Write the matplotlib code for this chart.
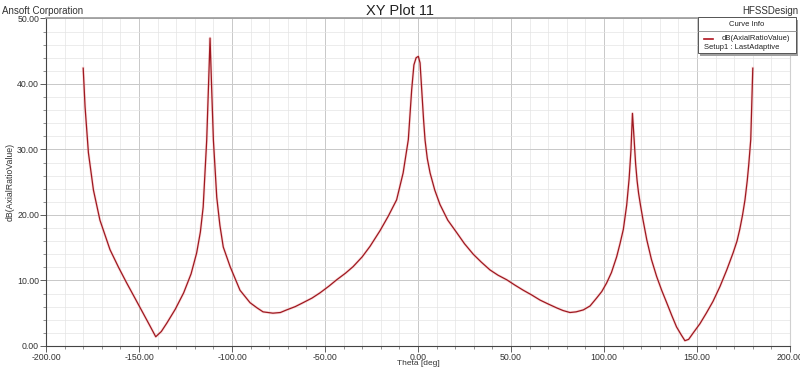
import matplotlib.pyplot as plt
from matplotlib.patches import Rectangle
from matplotlib.lines import Line2D
from matplotlib.ticker import MultipleLocator

plt.rcParams['font.family'] = ['Liberation Sans', 'DejaVu Sans']

# Axial ratio vs theta
theta = [-180, -179, -177.2, -174.5, -171, -165.6, -161, -156.6, -152, -147.8, -144, -141,
         -138, -135, -130.5, -126, -122, -119, -117, -115.5, -113.6, -112.4, -111.8,
         -110.9, -110, -108.2, -106.5, -104.7, -101, -95.7, -90.3, -86.5, -83.3, -78,
         -74, -70.6, -66, -61.8, -57, -52.7, -48, -43.7, -39, -34.9, -30, -25.8, -20.4, -16,
         -11.5, -8, -5.2, -3.4, -2.2, -1, 0.2, 1.1, 2, 3, 3.8, 5, 6.5, 9, 11.8, 16, 20.8, 25, 29.7,
         34, 38.7, 43, 47.7, 52, 56.6, 61, 65.6, 70, 74.6, 78, 81.7, 85, 88.9, 92.5, 96, 98.8,
         101.4, 104, 106.8, 108.6, 110.4, 112.2, 113.5, 114.5, 115.3, 116.2, 117, 117.8, 118.6,
         119.6, 121, 123, 125.5, 128.3, 131, 133.7, 136.5, 139, 141.5, 143.5, 145.5, 148, 151.6,
         155, 158.6, 162.4, 166, 169.4, 171.5, 173, 174.5, 175.8, 177, 177.8, 178.9, 180]
ar_db = [42.4, 36.5, 29.5, 23.8, 19.2, 14.7, 12.0, 9.6, 7.2, 5.0, 3.0, 1.4,
         2.2, 3.5, 5.6, 8.1, 11.0, 14.2, 17.4, 21.2, 31.4, 41.7, 47.0,
         39.0, 31.4, 22.7, 18.4, 15.1, 12.1, 8.5, 6.6, 5.8, 5.2, 5.0,
         5.1, 5.5, 6.0, 6.6, 7.3, 8.1, 9.1, 10.1, 11.1, 12.1, 13.6, 15.2, 17.6, 19.8,
         22.3, 26.4, 31.5, 39.1, 42.9, 44.0, 44.2, 43.2, 39.1, 34.5, 31.4, 28.6, 26.4, 23.8, 21.6,
         19.2, 17.3, 15.6, 14.0,
         12.8, 11.6, 10.8, 10.1, 9.3, 8.5, 7.8, 7.0, 6.4, 5.8, 5.4, 5.1, 5.2, 5.5, 6.1, 7.3, 8.3,
         9.6, 11.2, 13.6, 15.6, 17.8, 21.5, 25.5, 29.9, 35.5, 31.5, 27.8, 25.2, 23.3,
         21.5, 19.2, 16.2, 13.2, 10.6, 8.5, 6.6, 4.6, 2.9, 1.7, 0.8, 1.0, 2.0, 3.4,
         5.0, 6.8, 9.1, 11.6, 14.2, 16.0, 17.8, 20.0, 22.3, 25.2, 27.6, 31.5, 42.4]

x_major = [-200, -150, -100, -50, 0, 50, 100, 150, 200]
y_major = [0, 10, 20, 30, 40, 50]

fig = plt.figure(figsize=(8, 3.68), dpi=100)
ax = fig.add_axes([0.0575, 0.06, 0.93, 0.89])

ax.plot(theta, ar_db, color='#f4a0a0', lw=2.0, alpha=0.35, solid_joinstyle='round')
ax.plot(theta, ar_db, color='#9e1820', lw=0.9, solid_joinstyle='round')

ax.set_xlim(-200, 200)
ax.set_ylim(0, 50)
ax.set_xticks(x_major)
ax.set_yticks(y_major)
ax.set_xticklabels(['%.2f' % v for v in x_major])
ax.set_yticklabels(['%.2f' % v for v in y_major])
ax.xaxis.set_minor_locator(MultipleLocator(10))
ax.yaxis.set_minor_locator(MultipleLocator(2))
ax.grid(which='major', color='#c8c8c8', lw=0.7)
ax.grid(which='minor', color='#e4e4e4', lw=0.5)
ax.set_axisbelow(True)
ax.tick_params(which='major', labelsize=6.3, length=4, width=0.6, color='#444444',
               labelcolor='#333333', pad=1)
ax.tick_params(which='minor', length=2.5, width=0.5, color='#666666')
for side in ('left', 'bottom'):
    ax.spines[side].set_color('#444444')
    ax.spines[side].set_linewidth(0.8)
ax.spines['top'].set_color('#9a9a9a')
ax.spines['top'].set_linewidth(1.2)
ax.spines['right'].set_color('#d0d0d0')

ax.set_xlabel('Theta [deg]', fontsize=6, color='#333333', labelpad=-1)
ax.set_ylabel('dB(AxialRatioValue)', fontsize=6.3, color='#333333', labelpad=2)

fig.text(0.003, 0.985, 'Ansoft Corporation', fontsize=7, color='#333333', va='top', ha='left')
fig.text(0.998, 0.985, 'HFSSDesign', fontsize=7, color='#333333', va='top', ha='right')
fig.text(0.5, 0.99, 'XY Plot 11', fontsize=10.5, color='#222222', va='top', ha='center')

# legend box (Curve Info)
x0, x1 = 698 / 800, 796 / 800
y0, y1 = 1 - 53 / 368, 1 - 17 / 368
fig.patches.append(Rectangle((x0 + 0.003, y0 - 0.007), x1 - x0, y1 - y0, transform=fig.transFigure,
                             facecolor='#a0a0a0', edgecolor='none', zorder=5))
fig.patches.append(Rectangle((x0, y0), x1 - x0, y1 - y0, transform=fig.transFigure,
                             facecolor='white', edgecolor='#555555', lw=0.7, zorder=6))
hy = 1 - 31 / 368
fig.lines.append(Line2D([x0, x1], [hy, hy], transform=fig.transFigure, color='#888888', lw=0.6, zorder=7))
fig.text((x0 + x1) / 2, 1 - 24 / 368, 'Curve Info', fontsize=5.5, ha='center', va='center',
         color='#222222', zorder=8)
ly = 1 - 38.5 / 368
fig.lines.append(Line2D([704 / 800, 713 / 800], [ly, ly], transform=fig.transFigure,
                        color='#b01420', lw=1.2, zorder=8))
fig.text(722 / 800, ly, 'dB(AxialRatioValue)', fontsize=5.5, ha='left', va='center',
         color='#222222', zorder=8)
fig.text(704 / 800, 1 - 47.5 / 368, 'Setup1 : LastAdaptive', fontsize=5.5, ha='left', va='center',
         color='#222222', zorder=8)

fig.savefig('out.png', dpi=100)
